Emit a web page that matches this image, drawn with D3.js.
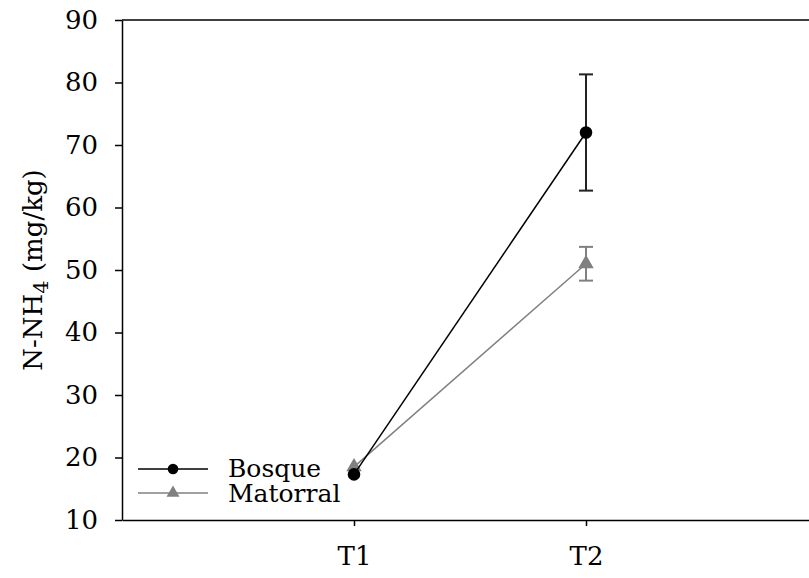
<!DOCTYPE html>
<meta charset="utf-8">
<script src="https://d3js.org/d3.v7.min.js"></script>
<style>
  body { margin: 0; background: #fff; }
</style>
<body>
<div id="chart"></div>
<script>
// data
var times = ["T1", "T2"];
var bosque = [17.3, 72.0];
var bosqueErr = [0, 9.3];
var matorral = [18.5, 51.0];
var matorralErr = [0, 2.7];
var yTicks = [10, 20, 30, 40, 50, 60, 70, 80, 90];

// only DejaVu Serif shows up as a serif face here
var serif = "'DejaVu Serif', 'Liberation Serif', serif";
var fs = "26px";

var margin = {top: 20, right: -9, bottom: 58, left: 122},
    width = 809 - margin.left - margin.right,
    height = 578 - margin.top - margin.bottom;

var svg = d3.select("#chart").append("svg")
    .attr("width", 809)
    .attr("height", 578)
  .append("g")
    .attr("transform", "translate(" + margin.left + "," + margin.top + ")");

// x is a plain linear scale, categories sit at 1 and 2
var x = d3.scaleLinear().domain([0, 3]).range([0, width]);
var y = d3.scaleLinear().domain([10, 90]).range([height, 0]);

// frame top line
svg.append("line")
  .attr("x1", 0).attr("x2", width)
  .attr("y1", 0).attr("y2", 0)
  .attr("stroke", "#000").attr("stroke-width", 1.5);

var yAxis = svg.append("g")
  .call(d3.axisLeft(y).tickValues(yTicks).tickSize(7).tickPadding(17).tickSizeOuter(0));
var xAxis = svg.append("g")
  .attr("transform", "translate(0," + height + ")")
  .call(d3.axisBottom(x).tickValues([1, 2]).tickFormat(function(d) { return times[d - 1]; })
    .tickSize(6).tickPadding(21).tickSizeOuter(0));

[yAxis, xAxis].forEach(function(a) {
  a.attr("font-family", null).attr("font-size", null);
  a.select(".domain").attr("stroke-width", 1.5);
  a.selectAll(".tick line").attr("stroke-width", 1.5);
  a.selectAll("text").attr("fill", "#000")
    .style("font-family", serif).style("font-size", fs);
});

// y title with subscript
var title = svg.append("text")
  .attr("transform", "translate(" + (-80) + "," + (height / 2) + ") rotate(-90)")
  .attr("text-anchor", "middle")
  .style("font-family", serif)
  .style("font-size", "26px");
title.append("tspan").text("N-NH");
title.append("tspan").attr("dy", 6).style("font-size", "21px").text("4");
title.append("tspan").attr("dy", -6).text(" (mg/kg)");

var series = [
  {name: "Bosque", values: bosque, err: bosqueErr, color: "#000", errColor: "#222", shape: "circle"},
  {name: "Matorral", values: matorral, err: matorralErr, color: "#808080", errColor: "#808080", shape: "triangle"}
];

var line = d3.line()
  .x(function(d, i) { return x(i + 1); })
  .y(function(d) { return y(d); });

function marker(g, s, cx, cy, size) {
  if (s.shape === "circle") {
    g.append("circle").attr("cx", cx).attr("cy", cy).attr("r", size).attr("fill", s.color);
  } else {
    g.append("path")
      .attr("d", d3.symbol().type(d3.symbolTriangle).size(size * size * 2.6))
      .attr("transform", "translate(" + cx + "," + cy + ")")
      .attr("fill", s.color);
  }
}

// matorral drawn first, bosque on top
series.slice().reverse().forEach(function(s) {
  var g = svg.append("g");
  g.append("path")
    .datum(s.values)
    .attr("d", line)
    .attr("fill", "none")
    .attr("stroke", s.color)
    .attr("stroke-width", 1.5);

  s.values.forEach(function(v, i) {
    var e = s.err[i];
    if (e > 0) {
      var cx = x(i + 1);
      g.append("line").attr("x1", cx).attr("x2", cx)
        .attr("y1", y(v - e)).attr("y2", y(v + e))
        .attr("stroke", s.errColor).attr("stroke-width", 2);
      [v - e, v + e].forEach(function(c) {
        g.append("line").attr("x1", cx - 7).attr("x2", cx + 7)
          .attr("y1", y(c)).attr("y2", y(c))
          .attr("stroke", s.errColor).attr("stroke-width", 2);
      });
    }
    marker(g, s, x(i + 1), y(v), 6.3);
  });
});

// legend
var legend = svg.append("g").attr("transform", "translate(16," + (height - 51) + ")");
series.forEach(function(s, i) {
  var ly = i * 24;
  legend.append("line")
    .attr("x1", 0).attr("x2", 70)
    .attr("y1", ly).attr("y2", ly)
    .attr("stroke", s.color).attr("stroke-width", 1.5);
  marker(legend, s, 35, ly, 5.3);
  legend.append("text")
    .attr("x", 90).attr("y", ly + 8 + i * 1)
    .style("font-family", serif)
    .style("font-size", "25px")
    .text(s.name);
});
</script>
</body>
